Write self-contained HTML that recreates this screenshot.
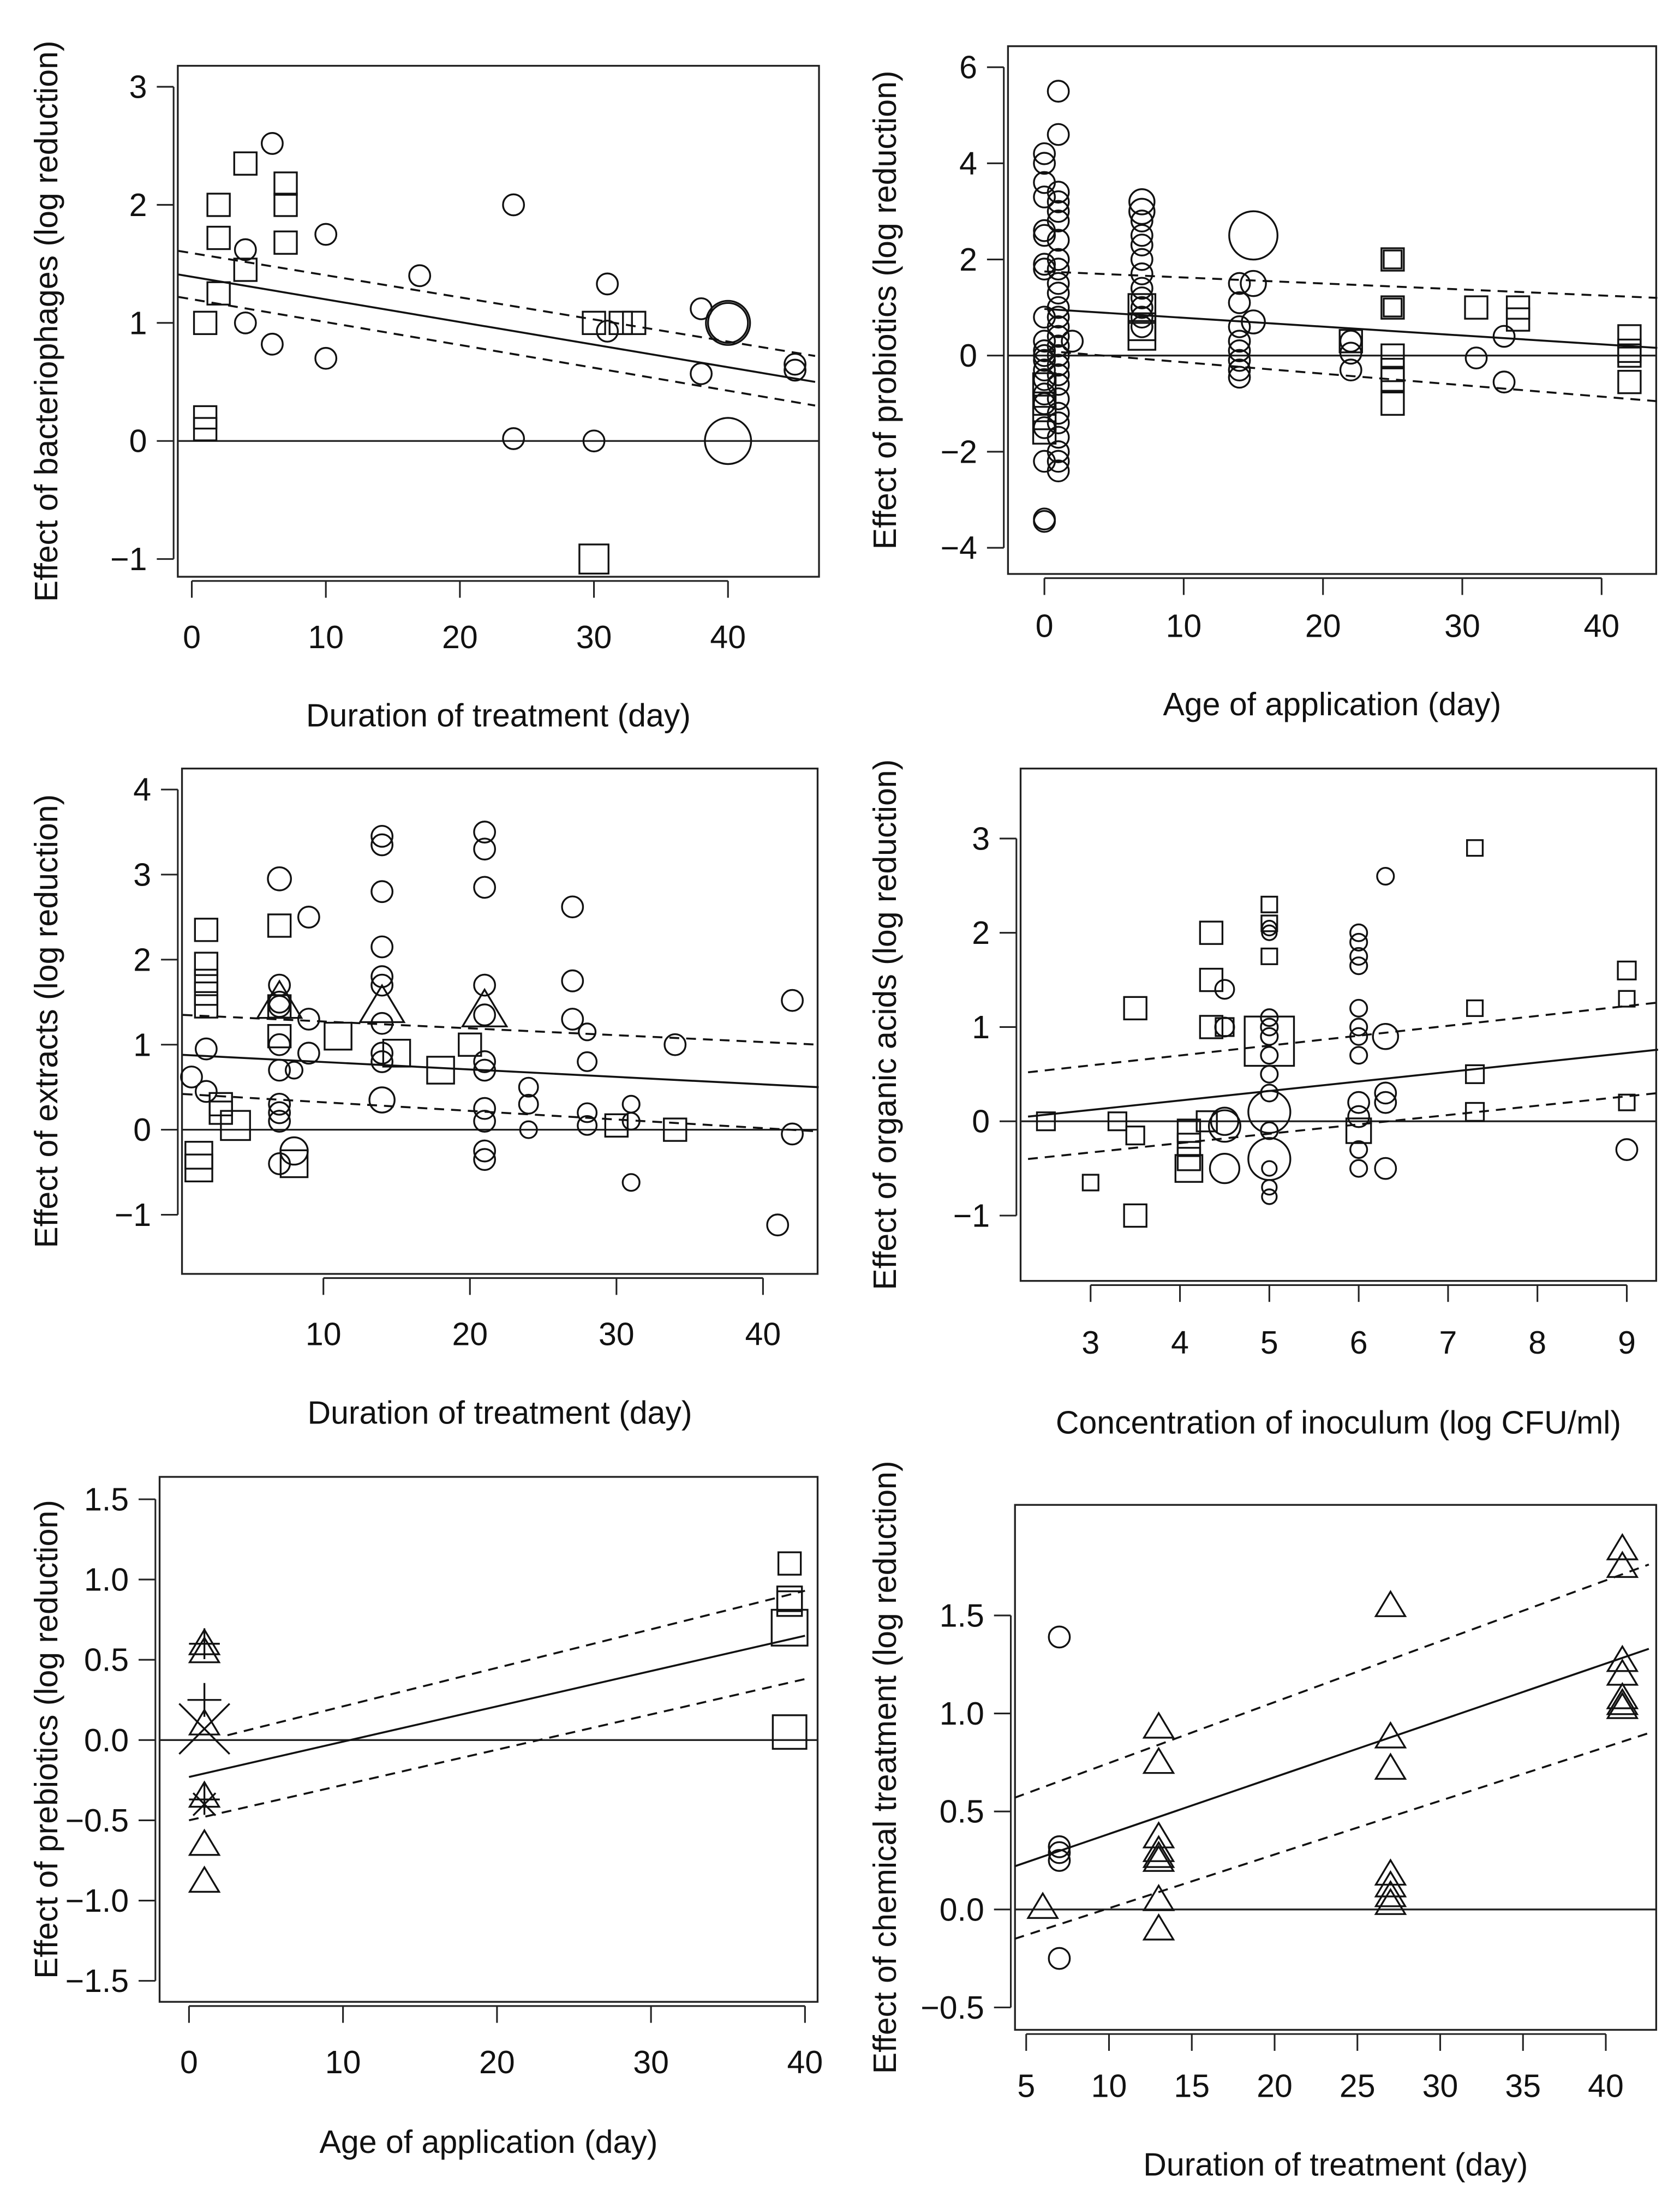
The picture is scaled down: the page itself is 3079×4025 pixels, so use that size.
<!DOCTYPE html>
<html><head><meta charset="utf-8"><style>
html,body{margin:0;padding:0;background:#fff}
svg{display:block}
text{font-family:"Liberation Sans",Arial,sans-serif;fill:#111}
</style></head><body>
<svg id="fig" width="3079" height="4025" viewBox="0 0 1200 1568.7" preserveAspectRatio="none" xmlns="http://www.w3.org/2000/svg"></svg>
<script>
// ---- Panel 1: bacteriophages ----
const p1Squares=[[1,1.0,1],[1,0.2,1],[1,0.1,1],[2,2.0,1],[2,1.72,1],[2,1.25,1],[4,2.35,1],[4,1.45,1],[7,2.18,1],[7,2.0,1],[7,1.68,1],[30,1.0,1],[32,1.0,1],[33,1.0,1],[30,-1.0,1.3]];
const p1Circles=[[6,2.52,1],[4,1.62,1],[4,1.0,1],[6,0.82,1],[10,1.75,1],[10,0.7,1],[17,1.4,1],[24,2.0,1],[24,0.02,1],[31,1.33,1],[31,0.93,1],[30,0.0,1],[38,1.12,1],[38,0.57,1],[40,1.0,2.1],[40,1.0,1.9],[40,0.0,2.2],[45,0.65,1],[45,0.6,1]];
const p1Fit=[[-1,1.41],[46.5,0.5]];const p1Up=[[-1,1.61],[46.5,0.72]];const p1Lo=[[-1,1.22],[46.5,0.3]];
const p1XTicks=[0,10,20,30,40];const p1YTicks=[-1,0,1,2,3];
// ---- Panel 2: probiotics ----
const p2Circles=[[0,4.2,1],[0,4.0,1],[0,3.6,1],[0,3.3,1],[0,2.6,1],[0,2.5,1],[0,1.9,1],[0,1.8,1],[0,0.8,1],[0,0.3,1],[0,0.1,1],[0,0,1],[0,-0.1,1],[0,-0.3,1],[0,-0.5,1],[0,-0.8,1],[0,-1.0,1],[0,-1.5,1],[0,-2.2,1],[0,-3.4,1],[0,-3.45,1],
[1,5.5,1],[1,4.6,1],[1,3.4,1],[1,3.2,1],[1,3.0,1],[1,2.8,1],[1,2.4,1],[1,2.0,1],[1,1.8,1],[1,1.5,1],[1,1.3,1],[1,1.0,1],[1,0.8,1],[1,0.6,1],[1,0.4,1],[1,0.2,1],[1,0.0,1],[1,-0.2,1],[1,-0.4,1],[1,-0.6,1],[1,-0.9,1],[1,-1.2,1],[1,-1.4,1],[1,-1.7,1],[1,-2.0,1],[1,-2.2,1],[1,-2.4,1],[2,0.3,1],
[7,3.2,1.2],[7,3.0,1.2],[7,2.8,1],[7,2.5,1],[7,2.3,1],[7,2.0,1],[7,1.7,1],[7,1.4,1],[7,1.2,1],[7,1.0,1],[7,0.8,1],[7,0.6,1],
[14,1.5,1],[15,1.5,1.2],[14,1.1,1],[15,0.7,1.1],[14,0.6,1],[14,0.3,1],[14,0.1,1],[14,-0.1,1],[14,-0.3,1],[14,-0.45,1],[15,2.5,2.3],
[22,0.3,1],[22,0.05,1],[22,-0.3,1],[31,-0.05,1],[33,0.4,1],[33,-0.55,1]];
const p2Squares=[[0,-0.6,1],[0,-1.0,1],[0,-1.3,1],[0,-1.6,1],[7,0.6,1.2],[7,0.4,1.2],[7,1.0,1.2],[22,0.3,1],[25,2.0,1],[25,2.0,0.8],[25,1.0,1],[25,1.0,0.8],[25,0.0,1],[25,-0.3,1],[25,-0.5,1],[25,-1.0,1],[31,1.0,1],[34,1.0,1],[34,0.75,1],[42,0.4,1],[42,0.1,1],[42,0.0,1],[42,-0.55,1]];
const p2Fit=[[0,0.97],[44,0.16]];const p2Up=[[0,1.75],[44,1.2]];const p2Lo=[[0,0.1],[44,-0.95]];
const p2XTicks=[0,10,20,30,40];const p2YTicks=[-4,-2,0,2,4,6];
// ---- Panel 3: extracts ----
const p3Squares=[[2,2.35,1],[2,1.95,1],[2,1.75,1],[2,1.6,1],[2,1.45,1],[1.5,-0.3,1.2],[1.5,-0.45,1.2],[3,0.3,1],[3,0.2,1],[4,0.05,1.3],[7,2.4,1],[7,1.45,1],[7,1.1,1],[8,-0.4,1.2],[11,1.1,1.2],[15,0.9,1.2],[18,0.7,1.2],[20,1.0,1],[30,0.05,1],[34,0.0,1]];
const p3Circles=[[1,0.62,1],[2,0.95,1],[2,0.45,1],[7,2.95,1.1],[7,1.7,1],[7,1.5,1],[7,1.45,1],[7,1.0,1],[7,0.7,1],[7,0.3,1],[7,0.2,1],[7,0.1,1],[7,-0.4,1],[8,-0.25,1.3],[8,0.7,0.8],[9,2.5,1],[9,1.3,1],[9,0.9,1],[14,3.45,1],[14,3.35,1],[14,2.8,1],[14,2.15,1],[14,1.8,1],[14,1.7,1],[14,1.25,1],[14,0.9,1],[14,0.8,1],[14,0.35,1.2],[21,3.5,1],[21,3.3,1],[21,2.85,1],[21,1.7,1],[21,1.35,1],[21,0.8,1],[21,0.7,1],[21,0.25,1],[21,0.1,1],[21,-0.25,1],[21,-0.35,1],[24,0.5,0.9],[24,0.3,0.9],[24,0.0,0.8],[27,2.62,1],[27,1.75,1],[27,1.3,1],[28,1.15,0.8],[28,0.8,0.9],[28,0.2,0.9],[28,0.05,0.9],[31,0.3,0.8],[31,0.1,0.8],[31,-0.62,0.8],[34,1.0,1],[41,-1.12,1],[42,1.52,1],[42,-0.05,1]];
const p3Triangles=[[7,1.5,1.5],[14,1.45,1.5],[21,1.4,1.5]];
const p3Fit=[[0.4,0.88],[43.8,0.5]];const p3Up=[[0.4,1.35],[43.8,1.0]];const p3Lo=[[0.4,0.42],[43.8,-0.02]];
const p3XTicks=[10,20,30,40];const p3YTicks=[-1,0,1,2,3,4];
// ---- Panel 4: organic acids ----
const p4Squares=[[2.5,0,0.8],[3.0,-0.65,0.7],[3.3,0,0.8],[3.5,-0.15,0.8],[3.5,1.2,1],[3.5,-1.0,1],[4.35,2.0,1],[4.35,1.5,1],[4.35,1.0,1],[4.5,1.0,0.8],[4.1,-0.1,1],[4.1,-0.25,1],[4.1,-0.4,1],[4.1,-0.5,1.2],[4.3,0,0.9],[5,2.3,0.7],[5,2.1,0.7],[5,1.75,0.7],[5,0.85,2.2],[6,-0.1,1.1],[7.3,2.9,0.7],[7.3,1.2,0.7],[7.3,0.5,0.8],[7.3,0.1,0.8],[9,1.6,0.8],[9,1.3,0.7],[9,0.2,0.7]];
const p4Circles=[[4.5,1.4,0.9],[4.5,1.0,0.9],[4.5,0,1.3],[4.5,-0.05,1.5],[4.5,-0.5,1.4],[5,2.05,0.7],[5,2.0,0.7],[5,1.1,0.8],[5,1.0,0.8],[5,0.9,0.8],[5,0.7,0.8],[5,0.5,0.8],[5,0.3,0.8],[5,0.1,2.0],[5,-0.1,0.8],[5,-0.4,2.0],[5,-0.5,0.7],[5,-0.7,0.7],[5,-0.8,0.7],[6,2.0,0.8],[6,1.9,0.8],[6,1.75,0.8],[6,1.65,0.8],[6,1.2,0.8],[6,1.0,0.8],[6,0.9,0.8],[6,0.7,0.8],[6,0.2,1.0],[6,0.05,1.0],[6,-0.3,0.8],[6,-0.5,0.8],[6.3,2.6,0.8],[6.3,0.9,1.2],[6.3,0.3,1.0],[6.3,0.2,1.0],[6.3,-0.5,1.0],[9,-0.3,1.0]];
const p4Fit=[[2.3,0.05],[9.35,0.76]];const p4Up=[[2.3,0.52],[9.35,1.26]];const p4Lo=[[2.3,-0.4],[9.35,0.3]];
const p4XTicks=[3,4,5,6,7,8,9];const p4YTicks=[-1,0,1,2,3];
// ---- Panel 5: prebiotics ----
const p5Triangles=[[1,0.6,1],[1,0.55,1],[1,0.1,1],[1,-0.35,1],[1,-0.65,1],[1,-0.88,1]];
const p5Plus=[[1,0.6,1],[1,0.25,1.1],[1,-0.37,1]];
const p5Cross=[[1,0.07,1.8],[1,-0.4,0.8]];
const p5Squares=[[39,1.1,1],[39,0.88,1.1],[39,0.85,1.1],[39,0.7,1.6],[39,0.05,1.5]];
const p5Fit=[[0,-0.23],[40,0.65]];const p5Up=[[2.5,0.03],[40,0.93]];const p5Lo=[[0,-0.5],[40,0.38]];
const p5XTicks=[0,10,20,30,40];const p5YTicks=[-1.5,-1.0,-0.5,0.0,0.5,1.0,1.5];
// ---- Panel 6: chemical treatment ----
const p6Circles=[[7,1.39,1],[7,0.32,1],[7,0.29,1],[7,0.25,1],[7,-0.25,1]];
const p6Triangles=[[6,0.01,1],[13,0.93,1],[13,0.75,1],[13,0.37,1],[13,0.3,1],[13,0.27,1],[13,0.25,1],[13,0.05,1],[13,-0.1,1],[27,1.55,1],[27,0.88,1],[27,0.72,1],[27,0.18,1],[27,0.12,1],[27,0.07,1],[27,0.03,1],[41,1.84,1],[41,1.75,1],[41,1.27,1],[41,1.2,1],[41,1.08,1],[41,1.05,1],[41,1.03,1]];
const p6Fit=[[4.3,0.22],[42.6,1.33]];const p6Up=[[4.3,0.57],[42.6,1.76]];const p6Lo=[[4.3,-0.15],[42.6,0.9]];
const p6XTicks=[5,10,15,20,25,30,35,40];const p6YTicks=[-0.5,0.0,0.5,1.0,1.5];

const NS="http://www.w3.org/2000/svg";
const svg=document.getElementById('fig');
function mk(tag,attrs,parent){const e=document.createElementNS(NS,tag);for(const k in attrs)e.setAttribute(k,attrs[k]);parent.appendChild(e);return e;}
const FS=23;

const panels=[
 {id:'bacteriophages',box:[127,47,585,412],x0:0,px0:137,x1:40,px1:520,y0:0,py0:315,y1:3,py1:62,xt:p1XTicks,yt:p1YTicks,dec:0,xlY:455,titleY:511,yl:'Effect of bacteriophages (log reduction)',xl:'Duration of treatment (day)',ylX:33,sq:p1Squares,ci:p1Circles,fit:p1Fit,up:p1Up,lo:p1Lo},
 {id:'probiotics',box:[720,33,1183,410],x0:0,px0:746,x1:40,px1:1144,y0:0,py0:254,y1:6,py1:48,xt:p2XTicks,yt:p2YTicks,dec:0,xlY:447,titleY:503,yl:'Effect of probiotics (log reduction)',xl:'Age of application (day)',ylX:632,sq:p2Squares,ci:p2Circles,fit:p2Fit,up:p2Up,lo:p2Lo},
 {id:'extracts',box:[130,549,584,910],x0:10,px0:231,x1:40,px1:545,y0:0,py0:807,y1:4,py1:564,xt:p3XTicks,yt:p3YTicks,dec:0,xlY:953,titleY:1009,yl:'Effect of extracts (log reduction)',xl:'Duration of treatment (day)',ylX:33,sq:p3Squares,ci:p3Circles,tr:p3Triangles,fit:p3Fit,up:p3Up,lo:p3Lo},
 {id:'organic-acids',box:[729,549,1183,915],x0:3,px0:779,x1:9,px1:1162,y0:0,py0:801,y1:3,py1:599,xt:p4XTicks,yt:p4YTicks,dec:0,xlY:959,titleY:1016,yl:'Effect of organic acids (log reduction)',xl:'Concentration of inoculum (log CFU/ml)',ylX:632,sq:p4Squares,ci:p4Circles,fit:p4Fit,up:p4Up,lo:p4Lo},
 {id:'prebiotics',box:[114,1055,584,1430],x0:0,px0:135,x1:40,px1:575,y0:0,py0:1243,y1:1.5,py1:1071,xt:p5XTicks,yt:p5YTicks,dec:1,xlY:1473,titleY:1530,yl:'Effect of prebiotics (log reduction)',xl:'Age of application (day)',ylX:33,sq:p5Squares,tr:p5Triangles,pl:p5Plus,cr:p5Cross,fit:p5Fit,up:p5Up,lo:p5Lo},
 {id:'chemical',box:[725,1075,1183,1450],x0:5,px0:733,x1:40,px1:1147,y0:0,py0:1364,y1:1.5,py1:1154,xt:p6XTicks,yt:p6YTicks,dec:1,xlY:1490,titleY:1546,yl:'Effect of chemical treatment (log reduction)',xl:'Duration of treatment (day)',ylX:632,ci:p6Circles,tr:p6Triangles,fit:p6Fit,up:p6Up,lo:p6Lo}
];

panels.forEach(p=>{
 const sx=v=>p.px0+(v-p.x0)*(p.px1-p.px0)/(p.x1-p.x0);
 const sy=v=>p.py0+(v-p.y0)*(p.py1-p.py0)/(p.y1-p.y0);
 const [bx0,by0,bx1,by1]=p.box;
 const g=mk('g',{},svg);
 
 
 const fr=mk('rect',{x:bx0,y:by0,width:bx1-bx0,height:by1-by0,fill:'none',stroke:'#222','stroke-width':1.3},g);
 
 
 const xa=mk('g',{},g);
 
 
 const xs=sx(p.xt[0]),xe=sx(p.xt[p.xt.length-1]);
 mk('line',{x1:xs,x2:xe,y1:by1+3,y2:by1+3,stroke:'#222','stroke-width':1.2},xa);
 p.xt.forEach(t=>{const X=sx(t);mk('line',{x1:X,x2:X,y1:by1+3,y2:by1+15,stroke:'#222','stroke-width':1.2},xa);
  const tx=mk('text',{x:X,y:p.xlY+8,'text-anchor':'middle','font-size':FS},xa);tx.textContent=t;
  
  });
 const xt=mk('text',{x:(bx0+bx1)/2,y:p.titleY+8,'text-anchor':'middle','font-size':FS},g);xt.textContent=p.xl;
 
 
 const ya=mk('g',{},g);
 
 
 const ys=sy(p.yt[0]),ye=sy(p.yt[p.yt.length-1]);
 mk('line',{x1:bx0-3,x2:bx0-3,y1:ys,y2:ye,stroke:'#222','stroke-width':1.2},ya);
 p.yt.forEach(t=>{const Y=sy(t);mk('line',{x1:bx0-15,x2:bx0-3,y1:Y,y2:Y,stroke:'#222','stroke-width':1.2},ya);
  const tx=mk('text',{x:bx0-22,y:Y+8,'text-anchor':'end','font-size':FS},ya);
  tx.textContent=(t<0?'\u2212':'')+Math.abs(t).toFixed(p.dec);
  
  });
 const cy=(by0+by1)/2;
 const yt=mk('text',{x:p.ylX+8,y:cy,'text-anchor':'middle','font-size':FS,transform:`rotate(-90 ${p.ylX+8} ${cy})`},g);yt.textContent=p.yl;
 
 
 const z=mk('line',{x1:bx0,x2:bx1,y1:sy(0),y2:sy(0),stroke:'#222','stroke-width':1.3},g);
 
 
 const pg=mk('g',{fill:'none',stroke:'#111','stroke-width':1.3},g);
 
 
 (p.ci||[]).forEach(d=>{const c=mk('circle',{cx:sx(d[0]),cy:sy(d[1]),r:7.5*d[2]},pg);
  
  });
 (p.sq||[]).forEach(d=>{const h=8*d[2];const r=mk('rect',{x:sx(d[0])-h,y:sy(d[1])-h,width:2*h,height:2*h},pg);
  
  });
 (p.tr||[]).forEach(d=>{const X=sx(d[0]),Y=sy(d[1]),h=10*d[2];
  const t=mk('polygon',{points:`${X},${Y-h} ${X-h*1.05},${Y+h*0.75} ${X+h*1.05},${Y+h*0.75}`},pg);
  
  });
 (p.pl||[]).forEach(d=>{const X=sx(d[0]),Y=sy(d[1]),h=11*d[2];
  const t=mk('path',{d:`M${X-h} ${Y}H${X+h}M${X} ${Y-h}V${Y+h}`},pg);
  
  });
 (p.cr||[]).forEach(d=>{const X=sx(d[0]),Y=sy(d[1]),h=10*d[2];
  const t=mk('path',{d:`M${X-h} ${Y-h}L${X+h} ${Y+h}M${X-h} ${Y+h}L${X+h} ${Y-h}`},pg);
  
  });
 [[p.fit,'',"fit-line"],[p.up,'7 5',"upper-ci-line"],[p.lo,'7 5',"lower-ci-line"]].forEach(([L,da,nm])=>{
  const l=mk('line',{x1:sx(L[0][0]),y1:sy(L[0][1]),x2:sx(L[1][0]),y2:sy(L[1][1]),stroke:'#111','stroke-width':1.4},g);
  if(da)l.setAttribute('stroke-dasharray',da);
  
  });
});
</script>
</body></html>
